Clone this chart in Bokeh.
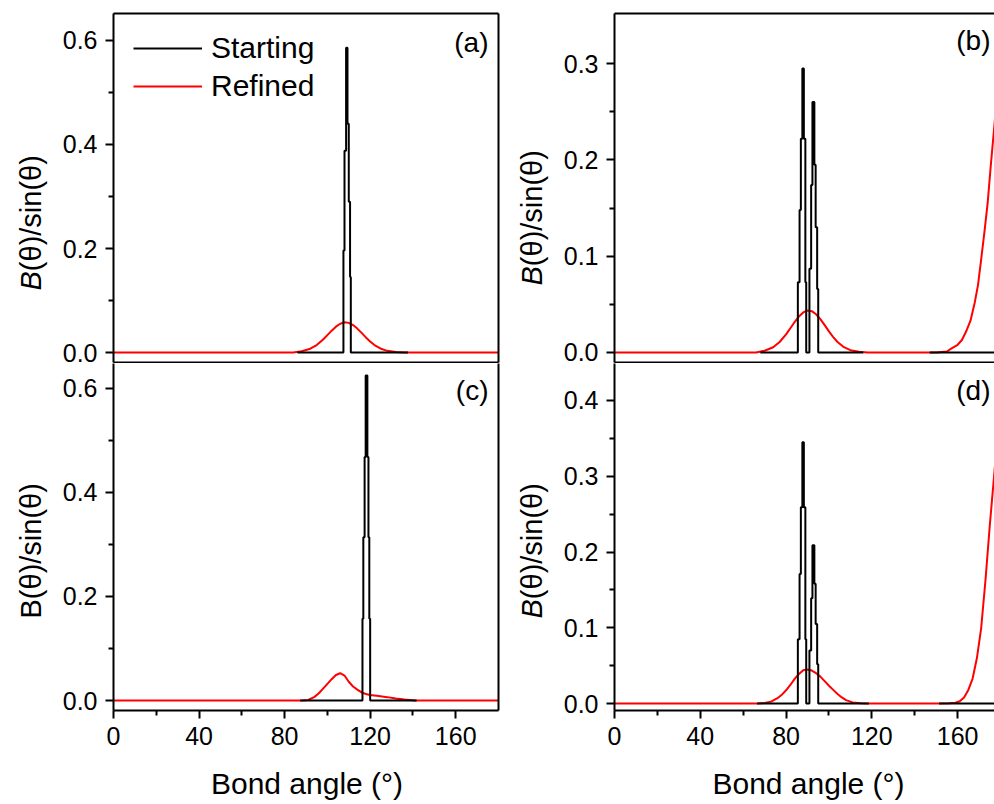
import math
from bokeh.plotting import figure
from bokeh.models import (Range1d, LinearAxis, FixedTicker, Label, Legend,
                          LegendItem, NumeralTickFormatter)
from bokeh.core.properties import value
from bokeh.layouts import column, row
from bokeh.embed import file_html
from bokeh.resources import INLINE

FONT = "Liberation Sans"

# ---------------- data (bond angle in degrees, B(theta)/sin(theta)) -------------
# panel (a)
A_START_X = [86, 107.5, 108.0, 108.75, 109.4, 110.0, 110.6, 110.95, 137.7]
A_START_Y = [0, 0.196, 0.388, 0.586, 0.44, 0.29, 0.145, 0, 0]
A_REF_X = [0, 84, 88, 92, 95, 98, 100, 102, 104, 106, 108, 110, 112, 114, 116,
           118, 120, 122, 125, 128, 132, 136, 180]
A_REF_Y = [0, 0, 0.0024, 0.0073, 0.0144, 0.025, 0.0335, 0.042, 0.0497, 0.0553,
           0.058, 0.057, 0.0528, 0.046, 0.0378, 0.029, 0.0213, 0.0144, 0.0073,
           0.0032, 0.0009, 0, 0]

# panel (b)
B_START_X = [68, 85.5, 86.3, 86.9, 87.6, 88.3, 89.0, 89.4, 90.9, 91.7, 92.3,
             93.2, 93.8, 94.5, 95.0, 116]
B_START_Y = [0, 0.073, 0.148, 0.222, 0.295, 0.222, 0.073, 0, 0.087, 0.174,
             0.26, 0.195, 0.13, 0.066, 0, 0]
B_START2_X = [147, 180]
B_START2_Y = [0, 0]
B_REF_X = [0, 66, 70, 74, 77, 80, 82, 84, 86, 88, 90, 92, 94, 96, 98, 100, 102,
           104, 107, 110, 114, 118, 150, 155, 157, 160, 162, 164, 166, 168,
           169.5, 171, 172.5, 174, 175.5, 177, 178.5, 180]
B_REF_Y = [0, 0, 0.0018, 0.0054, 0.0109, 0.0188, 0.0252, 0.0316, 0.0374,
           0.0416, 0.0436, 0.0429, 0.0397, 0.0346, 0.0284, 0.0219, 0.016,
           0.0109, 0.0055, 0.0024, 0.0007, 0, 0, 0.001, 0.004, 0.008, 0.013,
           0.022, 0.033, 0.052, 0.07, 0.097, 0.125, 0.155, 0.195, 0.232, 0.27,
           0.31]

# panel (c)
C_START_X = [87.3, 116.4, 116.8, 117.4, 117.9, 118.7, 119.2, 119.6, 120.0, 141.7]
C_START_Y = [0, 0.157, 0.314, 0.468, 0.625, 0.468, 0.314, 0.157, 0, 0]
C_REF_X = [0, 88, 91, 94, 96, 98, 100, 102, 104, 106, 108, 110, 112, 114, 116,
           118, 120, 124, 128, 132, 136, 141, 180]
C_REF_Y = [0, 0, 0.001, 0.007, 0.014, 0.023, 0.032, 0.041, 0.049, 0.0525,
           0.048, 0.036, 0.027, 0.021, 0.0155, 0.0125, 0.0105, 0.0085, 0.0065,
           0.004, 0.002, 0, 0]

# panel (d)
D_START_X = [66.5, 85.5, 86.3, 86.9, 87.6, 88.3, 89.0, 89.4, 90.9, 91.7, 92.3,
             93.2, 93.8, 94.5, 95.0, 118.6]
D_START_Y = [0, 0.085, 0.171, 0.259, 0.345, 0.259, 0.085, 0, 0.07, 0.139,
             0.209, 0.158, 0.105, 0.052, 0, 0]
D_START2_X = [151.3, 180]
D_START2_Y = [0, 0]
D_REF_X = [0, 66.5, 70, 73, 76, 78, 80, 82, 84, 86, 88, 90, 92, 94, 96, 98,
           100, 102, 104, 106, 108, 111, 115, 119, 150, 156, 159, 161, 163,
           165, 167, 169, 171, 173, 175, 177, 178.5, 180]
D_REF_Y = [0, 0, 0.0008, 0.0025, 0.007, 0.0115, 0.0175, 0.0245, 0.0325, 0.039,
           0.044, 0.045, 0.0435, 0.040, 0.0355, 0.0295, 0.0235, 0.018, 0.0125,
           0.008, 0.0045, 0.0015, 0.0003, 0, 0, 0.0003, 0.001, 0.003, 0.008,
           0.018, 0.033, 0.06, 0.1, 0.163, 0.235, 0.3, 0.35, 0.4]

X_TICKS = [0, 40, 80, 120, 160]
X_MINOR = [20, 60, 100, 140]
A_YTICKS, A_YMINOR = [0.0, 0.2, 0.4, 0.6], [0.1, 0.3, 0.5]
B_YTICKS, B_YMINOR = [0.0, 0.1, 0.2, 0.3], [0.05, 0.15, 0.25]
C_YTICKS, C_YMINOR = [0.0, 0.2, 0.4, 0.6], [0.1, 0.3, 0.5]
D_YTICKS, D_YMINOR = [0.0, 0.1, 0.2, 0.3, 0.4], [0.05, 0.15, 0.25, 0.35]

LEGEND_LABELS = ["Starting", "Refined"]
X_TITLE = "Bond angle (°)"
Y_TITLE_B = "B"
Y_TITLE_REST = "(θ)/sin(θ)"


def plain_axis():
    return LinearAxis(ticker=FixedTicker(ticks=[]), major_tick_in=0,
                      major_tick_out=0, minor_tick_in=0, minor_tick_out=0,
                      major_label_standoff=0, axis_line_width=2,
                      axis_line_color="black",
                      major_label_text_font_size="0px")


def tick_axis(ticks, minor, fmt=None, standoff=8):
    ax = LinearAxis(ticker=FixedTicker(ticks=ticks, minor_ticks=minor),
                    axis_line_width=2, axis_line_color="black",
                    major_tick_line_width=2, minor_tick_line_width=2,
                    major_tick_in=0, major_tick_out=8,
                    minor_tick_in=0, minor_tick_out=5,
                    major_label_text_font=FONT,
                    major_label_text_font_size="25px",
                    major_label_text_color="black",
                    major_label_standoff=standoff)
    if fmt:
        ax.formatter = NumeralTickFormatter(format=fmt)
    return ax


def bare(fw, fh, xr, yr, **kw):
    f = figure(frame_width=fw, frame_height=fh, x_range=xr, y_range=yr,
               x_axis_location=None, y_axis_location=None, title=None,
               output_backend="svg", toolbar_location=None,
               outline_line_color=None, background_fill_color="white",
               border_fill_color="white", **kw)
    f.xgrid.visible = False
    f.ygrid.visible = False
    return f


def panel(xmax, ymin, ymax, fw, fh, bl, br, bt, bb):
    return bare(fw, fh, Range1d(0, xmax), Range1d(ymin, ymax),
                min_border_left=bl, min_border_right=br,
                min_border_top=bt, min_border_bottom=bb)


def title_strip(h, xc, y0, italic):
    """Narrow figure holding the rotated y-axis title of a panel."""
    w = 50
    t = bare(w, h, Range1d(0, w), Range1d(0, h), min_border=0)
    size = 29
    common = dict(angle=math.pi / 2, text_font=value(FONT),
                  text_font_size=value(f"{size}px"), text_color="black",
                  text_align=value("left"), text_baseline=value("middle"))
    if italic:
        t.text(x=[xc], y=[y0], text=[Y_TITLE_B],
               text_font_style=value("italic"), **common)
        t.text(x=[xc], y=[y0 + 0.667 * size], text=[Y_TITLE_REST], **common)
    else:
        t.text(x=[xc], y=[y0], text=[Y_TITLE_B + Y_TITLE_REST], **common)
    return t


def curves(p, sx, sy, rx, ry, sx2=None, sy2=None):
    rr = p.line(rx, ry, line_color="#ff0000", line_width=2)
    rs = p.step(sx, sy, mode="after", line_color="black", line_width=2)
    if sx2 is not None:
        p.line(sx2, sy2, line_color="black", line_width=2)
    return rs, rr


def tag(p, text, x, y):
    p.add_layout(Label(x=x, y=y, x_units="screen", y_units="screen",
                       text=text, text_font=FONT, text_font_size="28px",
                       text_color="black",
                       text_align="right", text_baseline="middle"))


H1 = 363   # top row height    (0 .. 363)
H2 = 401   # bottom row height (363 .. 764)
H3 = 39    # x-title strip     (764 .. 803)

# ---------------- panel (a) ----------------
pa = panel(180, -0.0192, 0.6519, 385, 349, 63, 2, 13, 1)
rs, rr = curves(pa, A_START_X, A_START_Y, A_REF_X, A_REF_Y)
pa.add_layout(tick_axis(A_YTICKS, A_YMINOR, "0.0"), "left")
pa.add_layout(plain_axis(), "above")
pa.add_layout(plain_axis(), "below")
pa.add_layout(plain_axis(), "right")
tag(pa, "(a)", 375, 320)
leg = Legend(items=[LegendItem(label=LEGEND_LABELS[0], renderers=[rs]),
                    LegendItem(label=LEGEND_LABELS[1], renderers=[rr])],
             location=(20, 257), orientation="vertical",
             label_text_font=FONT, label_text_font_size="30px",
             label_text_color="black",
             glyph_width=69, glyph_height=38, label_height=38,
             label_standoff=9, spacing=0, padding=0, margin=0,
             border_line_color=None, background_fill_alpha=0)
pa.add_layout(leg)
ta = title_strip(H1, 30, H1 - 277, True)

# ---------------- panel (b) ----------------
pb = panel(177.2, -0.0104, 0.352, 380, 349, 64, 0, 13, 1)
curves(pb, B_START_X, B_START_Y, B_REF_X, B_REF_Y, B_START2_X, B_START2_Y)
pb.add_layout(tick_axis(B_YTICKS, B_YMINOR, "0.0"), "left")
pb.add_layout(plain_axis(), "above")
pb.add_layout(plain_axis(), "below")
tag(pb, "(b)", 376, 322)
tb = title_strip(H1, 31, H1 - 272, True)

# ---------------- panel (c) ----------------
pc = panel(180, -0.0192, 0.648, 385, 347, 63, 2, 0, H2 - 347)
curves(pc, C_START_X, C_START_Y, C_REF_X, C_REF_Y)
pc.add_layout(tick_axis(C_YTICKS, C_YMINOR, "0.0"), "left")
pc.add_layout(tick_axis(X_TICKS, X_MINOR), "below")
pc.add_layout(plain_axis(), "right")
tag(pc, "(c)", 375, 320)
tc = title_strip(H2, 30, H2 - (618 - H1), False)

# ---------------- panel (d) ----------------
pd_ = panel(177.2, -0.0092, 0.4488, 380, 347, 64, 0, 0, H2 - 347)
curves(pd_, D_START_X, D_START_Y, D_REF_X, D_REF_Y, D_START2_X, D_START2_Y)
pd_.add_layout(tick_axis(D_YTICKS, D_YMINOR, "0.0"), "left")
pd_.add_layout(tick_axis(X_TICKS, X_MINOR), "below")
tag(pd_, "(d)", 376, 320)
td = title_strip(H2, 31, H2 - (618 - H1), True)

# ---------------- x-axis titles (strip under the bottom row) ----------------
ts = bare(994, H3, Range1d(0, 994), Range1d(0, H3), min_border=0)
ts.text(x=[306.5, 808], y=[(H1 + H2 + H3) - 783] * 2,
        text=[X_TITLE, X_TITLE],
        text_font=value(FONT), text_font_size=value("30px"),
        text_color="black", text_align=value("center"),
        text_baseline=value("middle"))

layout = column(row(ta, pa, tb, pb, spacing=0),
                row(tc, pc, td, pd_, spacing=0),
                ts, spacing=0)

open("out.html", "w").write(file_html(layout, INLINE))
